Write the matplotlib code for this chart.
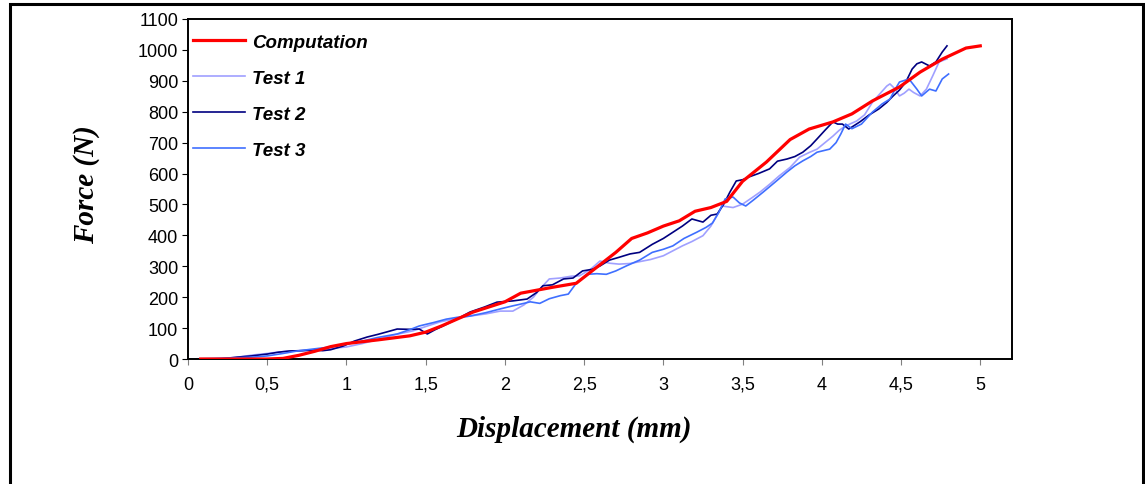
import matplotlib
matplotlib.use("Agg")
import matplotlib.pyplot as plt
from matplotlib.patches import Rectangle

# Force-displacement data
comp_x = [0.08, 0.5, 0.6, 0.7, 0.8, 0.9, 1.0, 1.2, 1.4, 1.5, 1.6, 1.8, 2.0, 2.1, 2.3,
          2.45, 2.6, 2.7, 2.8, 2.9, 3.0, 3.1, 3.2, 3.3, 3.4, 3.5, 3.65, 3.8, 3.92, 4.07,
          4.19, 4.32, 4.49, 4.62, 4.76, 4.91, 5.0]
comp_f = [0, 0, 2, 12, 25, 40, 50, 62, 75, 87, 107, 152, 185, 213, 232,
          245, 305, 345, 390, 408, 430, 447, 478, 490, 510, 575, 637, 710, 744, 767,
          793, 835, 880, 928, 970, 1006, 1013]

test1_x = [0.15, 0.3, 0.41, 0.5, 0.58, 0.7, 0.79, 0.9, 1.0, 1.1, 1.21, 1.3, 1.42, 1.5,
           1.59, 1.68, 1.78, 1.88, 1.97, 2.05, 2.12, 2.18, 2.22, 2.28, 2.35, 2.42, 2.47,
           2.54, 2.6, 2.66, 2.72, 2.79, 2.85, 2.92, 3.0, 3.06, 3.12, 3.18, 3.25, 3.3,
           3.37, 3.44, 3.5, 3.56, 3.61, 3.67, 3.73, 3.8, 3.86, 3.92, 3.97, 4.02, 4.07,
           4.11, 4.15, 4.22, 4.27, 4.32, 4.37, 4.41, 4.43, 4.46, 4.49, 4.52, 4.55, 4.58,
           4.62, 4.66, 4.7, 4.74, 4.79]
test1_f = [0, 5, 13, 18, 23, 27, 29, 34, 39, 50, 65, 78, 91, 105,
           120, 130, 139, 146, 155, 155, 175, 200, 226, 259, 262, 268, 269,
           290, 317, 310, 307, 309, 315, 322, 334, 350, 366, 380, 399, 430,
           495, 490, 501, 522, 540, 565, 592, 620, 653, 668, 679, 700, 721,
           740, 754, 770, 790, 831, 860, 883, 890, 875, 851, 860, 873, 862,
           851, 873, 916, 961, 971]

test2_x = [0.2, 0.31, 0.4, 0.5, 0.57, 0.64, 0.72, 0.79, 0.85, 0.9, 0.98, 1.05, 1.13,
           1.2, 1.25, 1.32, 1.4, 1.46, 1.51, 1.56, 1.61, 1.7, 1.78, 1.87, 1.95, 2.05,
           2.14, 2.2, 2.24, 2.3, 2.37, 2.43, 2.49, 2.55, 2.6, 2.66, 2.72, 2.79, 2.85,
           2.93, 3.0, 3.06, 3.12, 3.18, 3.25, 3.3, 3.34, 3.38, 3.42, 3.46, 3.5, 3.54,
           3.6, 3.67, 3.72, 3.78, 3.83, 3.88, 3.93, 3.97, 4.02, 4.07, 4.1, 4.13, 4.17,
           4.24, 4.3, 4.36, 4.41, 4.45, 4.49, 4.53, 4.57, 4.6, 4.63, 4.68, 4.72, 4.74,
           4.76, 4.79]
test2_f = [0, 6, 10, 16, 22, 26, 27, 29, 27, 30, 42, 58, 71,
           80, 87, 97, 96, 97, 81, 95, 107, 130, 152, 168, 184, 188,
           194, 215, 237, 240, 259, 262, 285, 290, 301, 320, 329, 340, 345,
           371, 390, 410, 430, 453, 443, 465, 469, 500, 540, 576, 580, 589,
           600, 615, 640, 647, 655, 669, 690, 712, 740, 767, 760, 760, 744,
           767, 790, 809, 830, 851, 870, 896, 938, 955, 961, 948, 961, 977,
           993, 1013]

test3_x = [0, 0.26, 0.4, 0.5, 0.6, 0.69, 0.8, 0.9, 1.0, 1.1, 1.2, 1.32, 1.4, 1.46,
           1.55, 1.63, 1.7, 1.78, 1.88, 1.97, 2.05, 2.12, 2.16, 2.22, 2.28, 2.35, 2.4,
           2.45, 2.52, 2.58, 2.64, 2.7, 2.77, 2.85, 2.93, 3.0, 3.06, 3.13, 3.21, 3.27,
           3.31, 3.35, 3.39, 3.44, 3.48, 3.52, 3.57, 3.63, 3.7, 3.78, 3.83, 3.88, 3.93,
           3.97, 4.05, 4.09, 4.12, 4.15, 4.19, 4.25, 4.32, 4.38, 4.43, 4.46, 4.49, 4.55,
           4.6, 4.63, 4.68, 4.72, 4.76, 4.8]
test3_f = [0, 3, 6, 10, 18, 26, 33, 39, 48, 58, 70, 81, 95, 107,
           118, 129, 135, 139, 150, 162, 172, 180, 185, 180, 195, 205, 210,
           245, 274, 276, 274, 285, 302, 320, 345, 355, 366, 390, 410, 426,
           440, 474, 518, 524, 505, 495, 515, 540, 570, 605, 625, 641, 655,
           669, 679, 700, 728, 760, 745, 760, 799, 825, 841, 870, 896, 906,
           873, 851, 873, 867, 906, 922]

x_ticks = [0, 0.5, 1, 1.5, 2, 2.5, 3, 3.5, 4, 4.5, 5]
x_tick_labels = ["0", "0,5", "1", "1,5", "2", "2,5", "3", "3,5", "4", "4,5", "5"]
y_ticks = list(range(0, 1101, 100))

plt.rcParams["font.family"] = ["Liberation Sans", "DejaVu Sans"]

fig = plt.figure(figsize=(11.45, 4.85), dpi=100)
ax = fig.add_axes([0.1642, 0.2577, 0.7196, 0.7011])

ax.plot(comp_x, comp_f, color="#ff0000", lw=2.3, label="Computation", zorder=5)
ax.plot(test1_x, test1_f, color="#a0a0ff", lw=1.2, label="Test 1")
ax.plot(test2_x, test2_f, color="#000080", lw=1.2, label="Test 2")
ax.plot(test3_x, test3_f, color="#3f6fff", lw=1.2, label="Test 3")

ax.set_xlim(0, 5.2)
ax.set_ylim(0, 1100)
ax.set_xticks(x_ticks)
ax.set_xticklabels(x_tick_labels)
ax.set_yticks(y_ticks)
ax.tick_params(axis="both", labelsize=13, direction="out", length=4)
ax.tick_params(axis="x", color="#808080", pad=8)
ax.tick_params(axis="y", pad=3)
for s in ax.spines.values():
    s.set_linewidth(1.4)
    s.set_color("black")

ax.set_xlabel("Displacement (mm)", family="Liberation Serif", weight="bold",
              style="italic", fontsize=21)
ax.xaxis.set_label_coords(0.468, -0.163)
ax.set_ylabel("Force (N)", family="Liberation Serif", weight="bold",
              style="italic", fontsize=21)
ax.yaxis.set_label_coords(-0.107, 0.515)

leg = ax.legend(loc="upper left", bbox_to_anchor=(0.0, 0.97), frameon=False,
                prop={"family": "Liberation Sans", "weight": "bold",
                      "style": "italic", "size": 13.5},
                handlelength=2.8, handletextpad=0.35, labelspacing=1.0,
                borderaxespad=0.0, borderpad=0.25)

# outer frame of the figure
fig.add_artist(Rectangle((10 / 1145, -0.05), 1133 / 1145, 1.05 - 5 / 485,
                         transform=fig.transFigure, fill=False,
                         edgecolor="black", lw=2.2, clip_on=False))

fig.savefig("out.png", dpi=100)
